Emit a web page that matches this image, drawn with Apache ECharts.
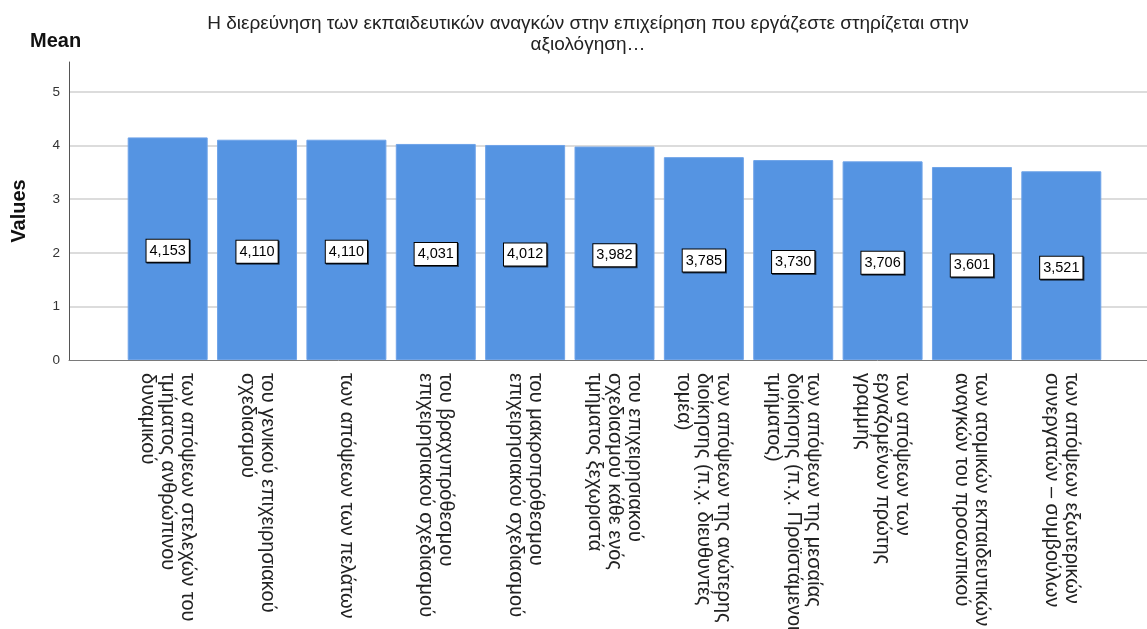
<!DOCTYPE html>
<html>
<head>
<meta charset="utf-8">
<script src="https://cdn.jsdelivr.net/npm/echarts@6/dist/echarts.min.js"></script>
<style>
  html, body { margin: 0; padding: 0; background: #fff; }
  #chart { width: 1147px; height: 629px; }
</style>
</head>
<body>
<div id="chart"></div>
<script>
// Sources assessed when identifying training needs (means on a 1–5 scale)
const categories = [
  'των απόψεων στελεχών του\nτμήματος ανθρώπινου\nδυναμικού',
  'του γενικού επιχειρησιακού\nσχεδιασμού',
  'των απόψεων των πελάτων',
  'του βραχυπρόθεσμου\nεπιχειρησιακού σχεδιασμού',
  'του μακροπρόθεσμου\nεπιχειρησιακού σχεδιασμού',
  'του επιχειρησιακού\nσχεδιασμού κάθε ενός\nτμήματος ξεχωριστά',
  'των απόψεων της ανώτερης\nδιοίκησης (π.χ. διευθυντές\nτομέα)',
  'των απόψεων της μεσαίας\nδιοίκησης (π.χ. Προϊστάμενοι\nτμήματος)',
  'των απόψεων των\nεργαζομένων πρώτης\nγραμμής',
  'των ατομικών εκπαιδευτικών\nαναγκών του προσωπικού',
  'των απόψεων εξωτερικών\nσυνεργατών – συμβούλων'
];
const means = [4.153, 4.110, 4.110, 4.031, 4.012, 3.982, 3.785, 3.730, 3.706, 3.601, 3.521];
const yTicks = [0, 1, 2, 3, 4, 5];

const titleText = 'Η διερεύνηση των εκπαιδευτικών αναγκών στην επιχείρηση που εργάζεστε στηρίζεται στην\nαξιολόγηση…';
const yMax = 5.56;
const FONT = 'Liberation Sans, Arial, sans-serif';

const chart = echarts.init(document.getElementById('chart'), null, { renderer: 'canvas' });

chart.setOption({
  backgroundColor: '#ffffff',
  animation: false,
  textStyle: { fontFamily: FONT },
  title: [
    {
      text: titleText,
      left: 583,
      top: 8,
      textAlign: 'center',
      textStyle: { fontFamily: FONT, fontSize: 19, fontWeight: 'normal', color: '#222', lineHeight: 21 }
    },
    {
      text: 'Mean',
      left: 25,
      top: 26,
      textStyle: { fontFamily: FONT, fontSize: 20, fontWeight: 'bold', color: '#111' }
    }
  ],
  grid: [
    // frame: value axis, gridlines and baseline across the full width
    { left: 69, right: 0, top: 62, bottom: 269, containLabel: false, outerBoundsMode: 'none' },
    // bars: category band inset from the frame
    { left: 123, right: 41, top: 62, bottom: 269, containLabel: false, outerBoundsMode: 'none' }
  ],
  xAxis: [
    {
      gridIndex: 0, type: 'value', min: 0, max: 1,
      axisLine: { show: true, onZero: false, lineStyle: { color: '#7a7a7a', width: 1 } },
      axisTick: { show: false }, axisLabel: { show: false }, splitLine: { show: false }
    },
    {
      gridIndex: 1, type: 'category', data: categories,
      axisLine: { show: false }, axisTick: { show: false },
      axisLabel: {
        rotate: -90, interval: 0, margin: 13,
        fontFamily: FONT, fontSize: 20, lineHeight: 20, color: '#222'
      }
    }
  ],
  yAxis: [
    {
      gridIndex: 0, type: 'value', min: 0, max: yMax, interval: 1,
      name: 'Values', nameLocation: 'middle', nameGap: 40, nameRotate: 90,
      nameTextStyle: { fontFamily: FONT, fontSize: 20, fontWeight: 'bold', color: '#111' },
      axisLine: { show: true, lineStyle: { color: '#555', width: 1 } },
      axisTick: { show: false },
      axisLabel: {
        margin: 9, fontFamily: FONT, fontSize: 13.5, color: '#333',
        showMaxLabel: false,
        formatter: v => (yTicks.indexOf(v) >= 0 ? String(v) : '')
      },
      splitLine: { show: true, showMaxLine: false, showMinLine: false, lineStyle: { color: '#d0d0d0', width: 1.5 } }
    },
    {
      gridIndex: 1, type: 'value', min: 0, max: yMax, interval: 1,
      axisLine: { show: false }, axisTick: { show: false },
      axisLabel: { show: false }, splitLine: { show: false }
    }
  ],
  series: [
    {
      type: 'bar',
      xAxisIndex: 1, yAxisIndex: 1,
      data: means,
      barCategoryGap: '10.5%',
      itemStyle: { color: '#5594e2', borderColor: '#6ea3e8', borderWidth: 1 },
      label: {
        show: true,
        position: 'inside',
        offset: [0, 2],
        formatter: p => p.value.toFixed(3).replace('.', ','),
        fontFamily: FONT, fontSize: 14.5, color: '#000',
        backgroundColor: '#ffffff',
        borderColor: '#000', borderWidth: 1,
        padding: [4, 3, 3, 3],
        shadowColor: 'rgba(0,0,0,0.6)', shadowOffsetX: 1, shadowOffsetY: 1, shadowBlur: 0
      }
    }
  ]
});
</script>
</body>
</html>
